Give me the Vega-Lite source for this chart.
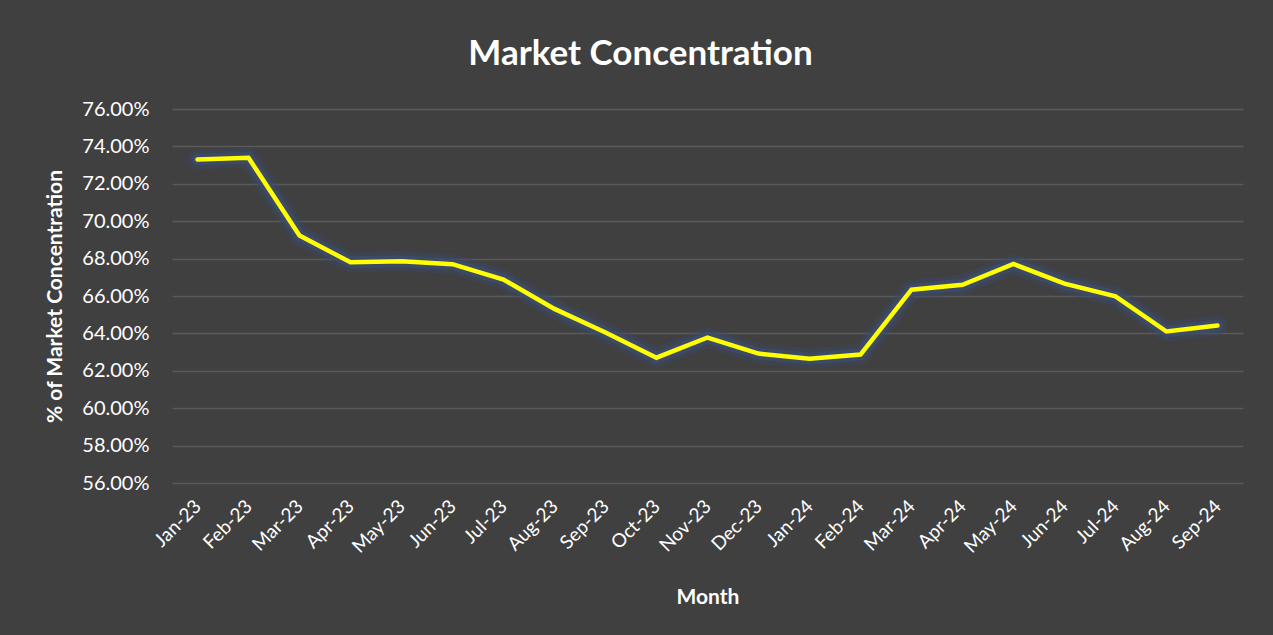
{
  "$schema": "https://vega.github.io/schema/vega-lite/v6.json",
  "autosize": {"type": "none"},
  "width": 1071,
  "height": 374,
  "padding": {"left": 172, "top": 109, "right": 30, "bottom": 152},
  "background": "#404040",
  "title": {
    "text": "Market Concentration",
    "font": "Lato",
    "fontSize": 35,
    "fontWeight": "bold",
    "color": "#ffffff",
    "anchor": "middle",
    "dx": -67,
    "offset": 27
  },
  "config": {
    "view": {"stroke": null},
    "font": "Lato"
  },
  "data": {
    "values": [
      {"month": "Jan-23", "value": 0.7330},
      {"month": "Feb-23", "value": 0.7339},
      {"month": "Mar-23", "value": 0.6924},
      {"month": "Apr-23", "value": 0.6780},
      {"month": "May-23", "value": 0.6786},
      {"month": "Jun-23", "value": 0.6770},
      {"month": "Jul-23", "value": 0.6688},
      {"month": "Aug-23", "value": 0.6531},
      {"month": "Sep-23", "value": 0.6405},
      {"month": "Oct-23", "value": 0.6270},
      {"month": "Nov-23", "value": 0.6378},
      {"month": "Dec-23", "value": 0.6292},
      {"month": "Jan-24", "value": 0.6265},
      {"month": "Feb-24", "value": 0.6287},
      {"month": "Mar-24", "value": 0.6634},
      {"month": "Apr-24", "value": 0.6660},
      {"month": "May-24", "value": 0.6771},
      {"month": "Jun-24", "value": 0.6666},
      {"month": "Jul-24", "value": 0.6598},
      {"month": "Aug-24", "value": 0.6410},
      {"month": "Sep-24", "value": 0.6442}
    ]
  },
  "encoding": {
    "x": {
      "field": "month",
      "type": "ordinal",
      "sort": null,
      "scale": {"type": "point", "padding": 0.5},
      "axis": {
        "title": "Month",
        "titleFont": "Lato",
        "titleFontSize": 21,
        "titleFontWeight": "bold",
        "titleColor": "#ffffff",
        "titlePadding": 30,
        "labelAngle": -45,
        "labelAlign": "right",
        "labelBaseline": "middle",
        "labelFont": "Lato",
        "labelFontSize": 19,
        "labelColor": "#ffffff",
        "labelPadding": 20,
        "domain": false,
        "ticks": false,
        "grid": false
      }
    },
    "y": {
      "field": "value",
      "type": "quantitative",
      "scale": {"domain": [0.56, 0.76], "nice": false, "zero": false},
      "axis": {
        "title": "% of Market Concentration",
        "titleFont": "Lato",
        "titleFontSize": 21,
        "titleFontWeight": "bold",
        "titleColor": "#ffffff",
        "titlePadding": 16,
        "format": ".2%",
        "values": [0.56, 0.58, 0.60, 0.62, 0.64, 0.66, 0.68, 0.70, 0.72, 0.74, 0.76],
        "labelFont": "Lato",
        "labelFontSize": 20,
        "labelColor": "#ffffff",
        "labelPadding": 23,
        "domain": false,
        "ticks": false,
        "grid": true,
        "gridColor": "#5a5a5a",
        "gridWidth": 1.5
      }
    }
  },
  "layer": [
    {"mark": {"type": "line", "color": "#3a4866", "strokeWidth": 20, "opacity": 0.4, "strokeJoin": "round", "strokeCap": "round"}},
    {"mark": {"type": "line", "color": "#3d4c6e", "strokeWidth": 12, "opacity": 0.75, "strokeJoin": "round", "strokeCap": "round"}},
    {"mark": {"type": "line", "color": "#ffff00", "strokeWidth": 4.5, "strokeJoin": "miter", "strokeCap": "round"}}
  ]
}
